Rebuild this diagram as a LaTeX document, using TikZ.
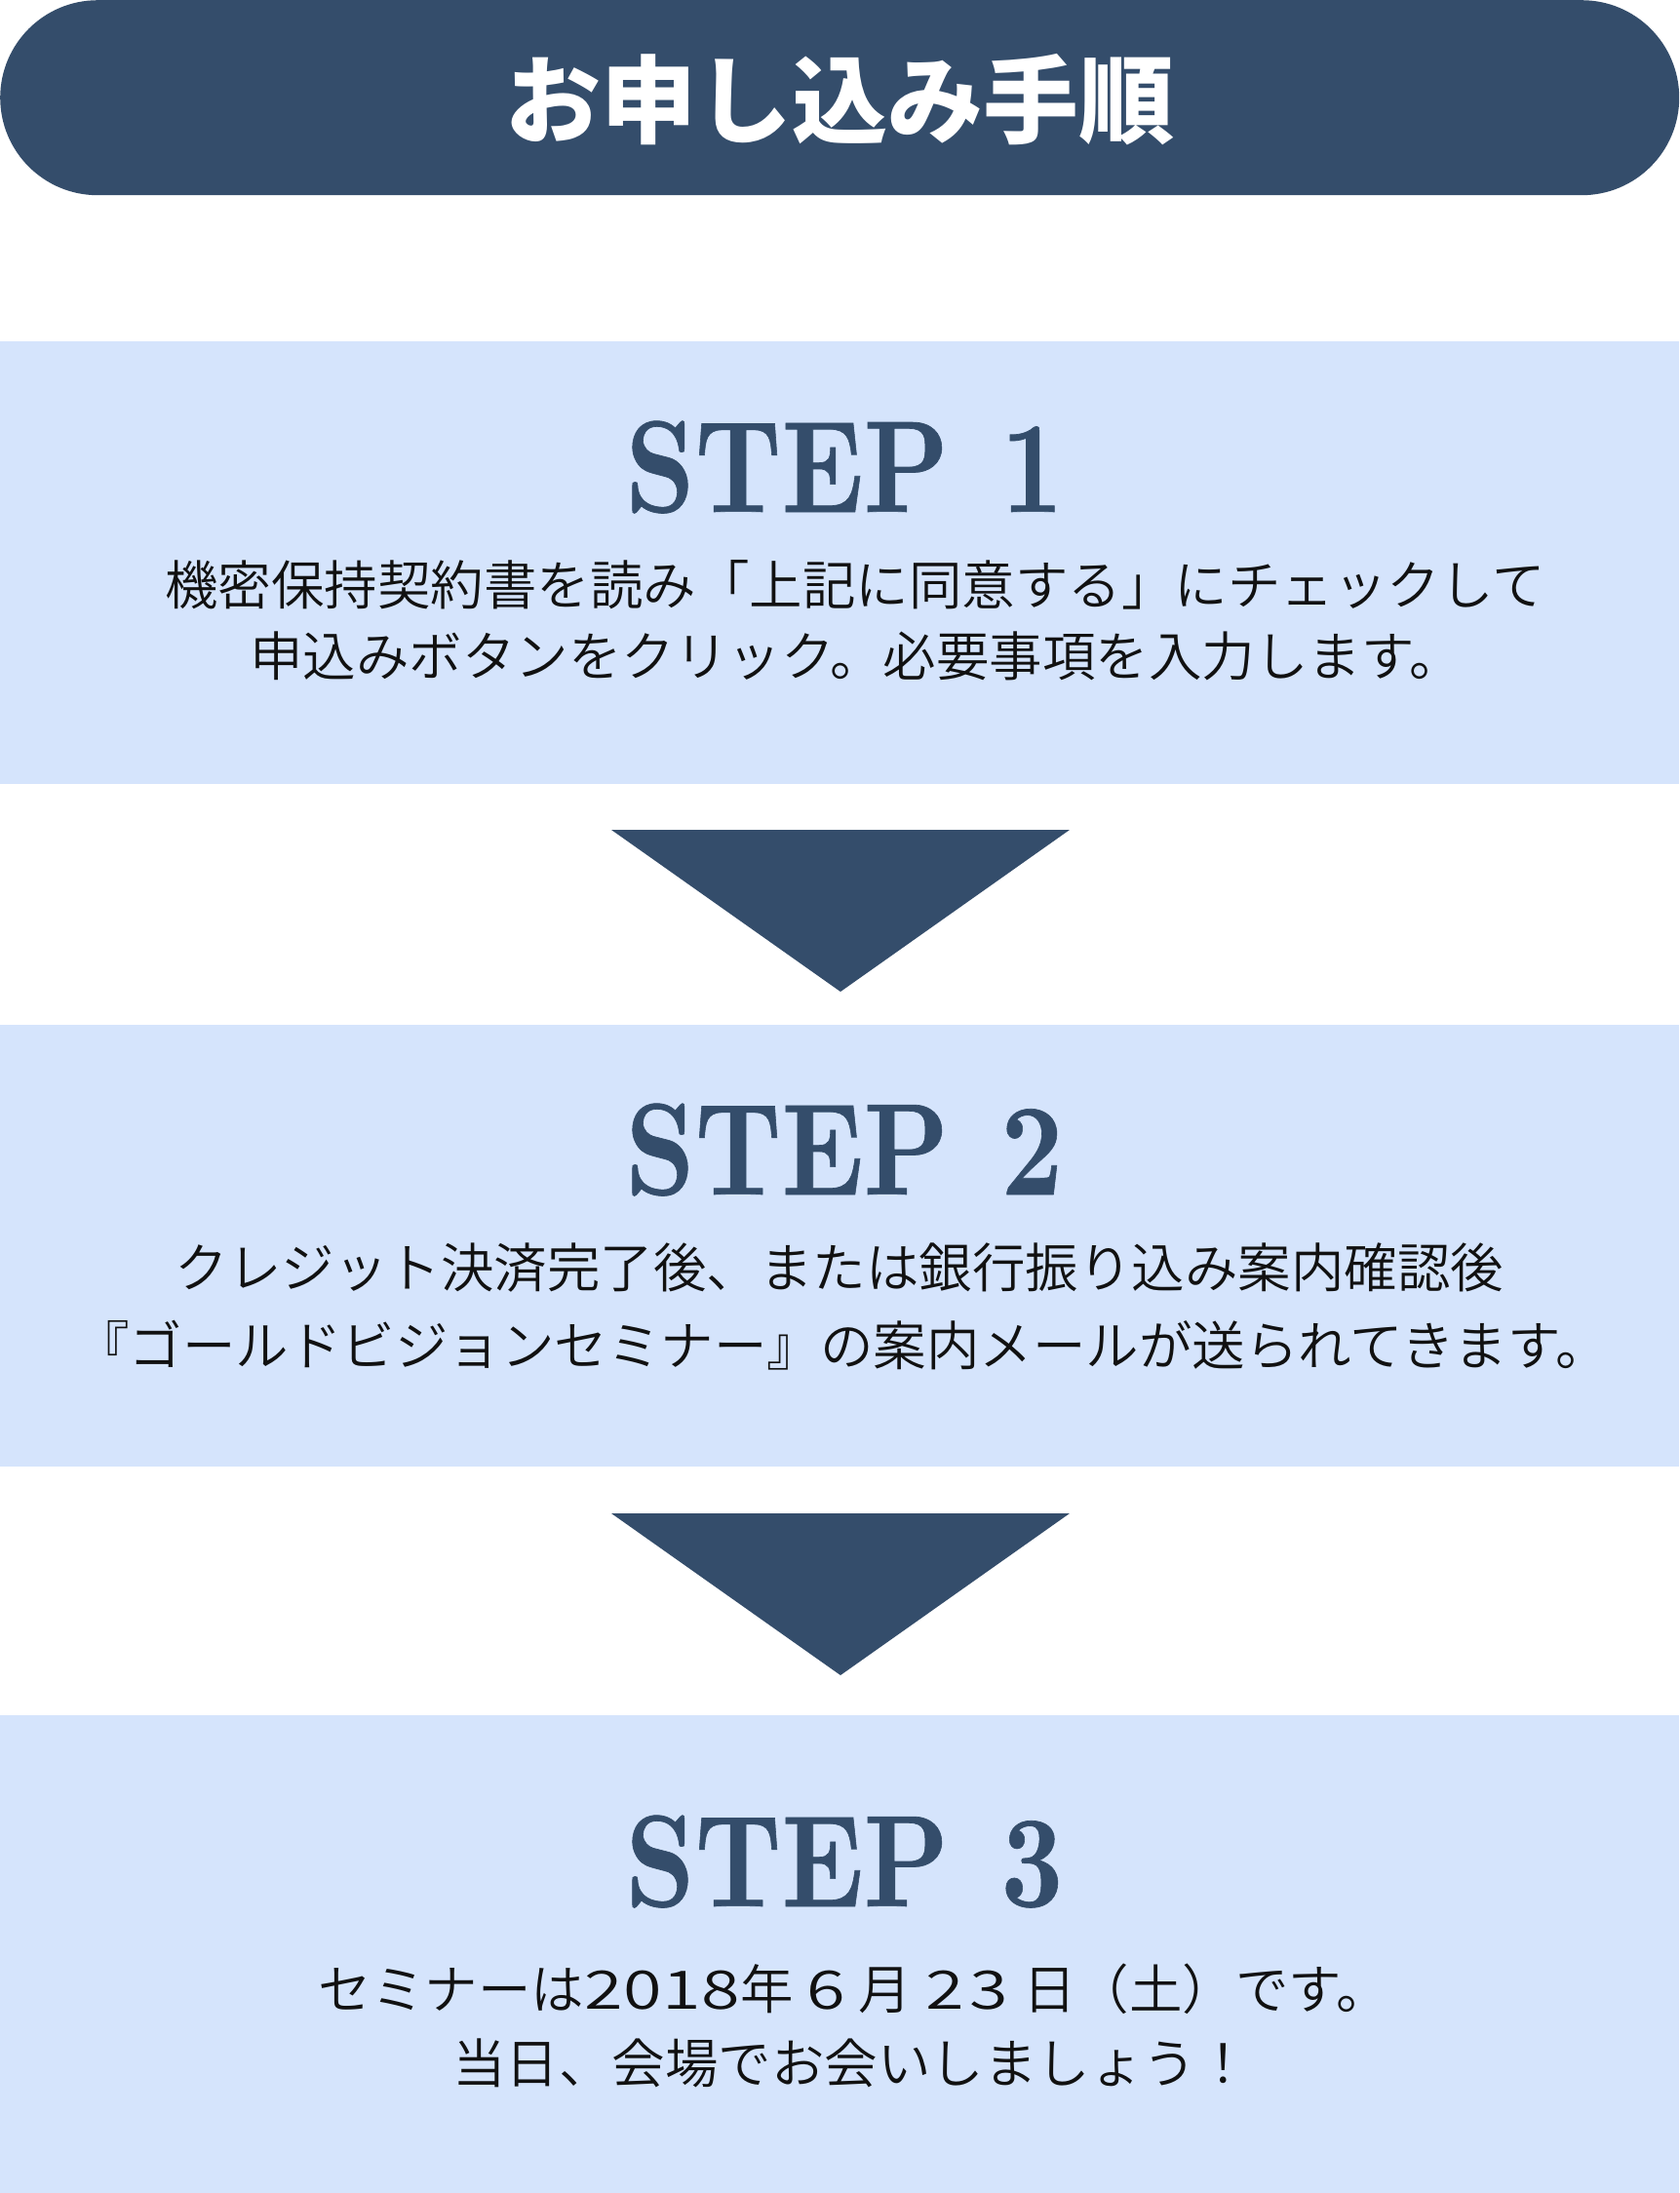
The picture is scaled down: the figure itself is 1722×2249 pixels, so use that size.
\documentclass[tikz,border=0pt]{standalone}
\usepackage{fontspec}
\usepackage{graphicx}
\newfontfamily\jp{Noto Sans CJK JP}
\newfontfamily\jpl{Noto Sans CJK JP DemiLight}
\newfontfamily\stepfont{lmroman10-bold.otf}[FakeBold=0.5]
\newcommand\dcell[2]{\makebox[#1pt]{\scalebox{1.32}[1]{#2}}}
\definecolor{navy}{RGB}{52,77,107}
\definecolor{pale}{RGB}{213,228,252}
\definecolor{ink}{RGB}{17,17,17}
\begin{document}
\begin{tikzpicture}[x=1pt,y=-1pt,
  panel/.style={fill=pale,draw=none,inner sep=0,minimum width=1722pt,anchor=north west},
  steptitle/.style={anchor=base,text=navy,inner sep=0,font=\stepfont\fontsize{134}{134}\selectfont},
  body/.style={anchor=base,inner sep=0,text=ink,font=\jpl\fontsize{54.5}{54.5}\selectfont},
  pointer/.style={fill=navy,draw=none}]
\useasboundingbox (0,0) rectangle (1722,2249);
\fill[white] (0,0) rectangle (1722,2249);
% header pill
\node (head) [fill=navy,rounded corners=100pt,inner sep=0,minimum width=1722pt,minimum height=200pt,anchor=north west] at (0,0) {};
\node (title) [anchor=base,inner sep=0,text=white,font=\jp\fontsize{98}{98}\selectfont\bfseries] at (861,139) {お申し込み手順};
% panels
\node (s1) [panel,minimum height=454pt] at (0,350) {};
\node (s2) [panel,minimum height=453pt] at (0,1051) {};
\node (s3) [panel,minimum height=490pt] at (0,1759) {};
% step titles
\node (t1) [steptitle] at (866,525) {\scalebox{0.83}[1]{STEP\hspace{0.48em}1}};
\node (t2) [steptitle] at (866,1225) {\scalebox{0.83}[1]{STEP\hspace{0.48em}2}};
\node (t3) [steptitle] at (866,1955) {\scalebox{0.83}[1]{STEP\hspace{0.48em}3}};
% texts
\node (b1a) [body] at (877,620) {機密保持契約書を読み「上記に同意する」にチェックして};
\node (b1b) [body] at (878,693) {申込みボタンをクリック。必要事項を入力します。};
\node (b2a) [body] at (861,1320) {クレジット決済完了後、または銀行振り込み案内確認後};
\node (b2b) [body] at (864,1400) {『ゴールドビジョンセミナー』の案内メールが送られてきます。};
\node (b3a) [body] at (876,2060) {セミナーは\dcell{40}2\dcell{40}0\dcell{40}1\dcell{40}8年 \dcell{42}6 月 \dcell{45}2\dcell{45}3 日（土）です。};
\node (b3b) [body] at (873,2136) {当日、会場でお会いしましょう！};
% pointers
\coordinate (p1l) at (627,851);
\coordinate (p1r) at (1097,851);
\coordinate (p1t) at (862,1017);
\coordinate (p2l) at (627,1552);
\coordinate (p2r) at (1097,1552);
\coordinate (p2t) at (862,1718);
\fill[pointer] (p1l) -- (p1r) -- (p1t) -- cycle;
\fill[pointer] (p2l) -- (p2r) -- (p2t) -- cycle;
\end{tikzpicture}
\end{document}
